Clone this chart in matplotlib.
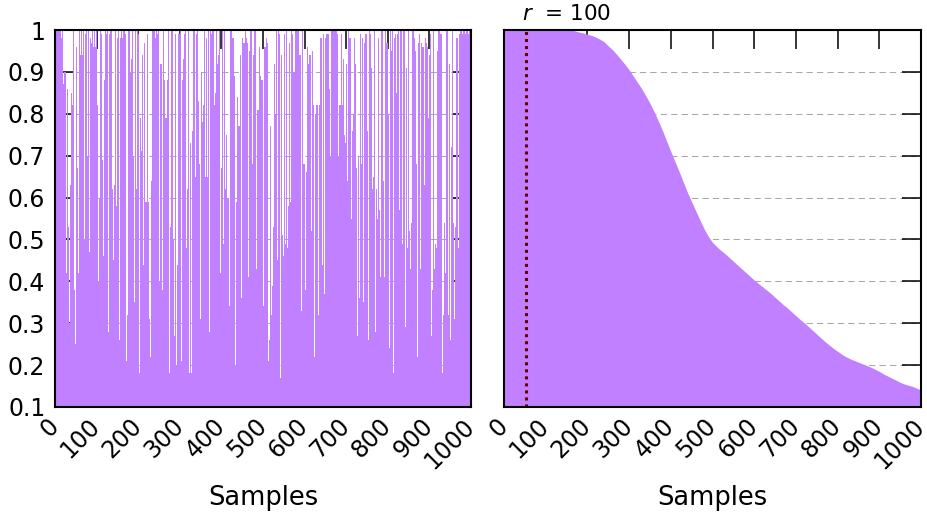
# plot.py
# Per-sample values (left) and the same values sorted (right)

import numpy as np
import matplotlib
matplotlib.use("Agg")
import matplotlib.pyplot as plt
import matplotlib.transforms as mtransforms

plt.rcParams['font.family'] = ['DejaVu Sans']
plt.rcParams['mathtext.fontset'] = 'dejavusans'

### Data ###
# left panel: one value per visible pixel column, in hundredths
left_part1 = [100, 100, 100, 100, 100, 100, 98, 100, 87, 90,
              90, 42, 86, 53, 30, 63, 85, 82, 100, 38,
              25, 96, 67, 42, 100, 94, 100, 94, 100, 50,
              99, 100, 70, 100, 47, 98, 97, 100, 96, 100,
              96, 100, 82, 40, 60, 100, 99, 69, 46, 88,
              100, 99, 100, 28, 99, 100, 100, 62, 45, 63,
              100, 58, 98, 100, 26, 98, 100, 98, 100, 100,
              99, 21, 32, 100, 100, 90, 93, 100, 70, 35,
              100, 62, 100, 99, 18, 79, 71, 94, 44, 97,
              59, 59, 99, 59, 31, 22, 64, 100, 100, 100,
              98, 100, 99, 100]
left_part2 = [40, 92, 92, 38, 100, 88, 79, 79, 88, 100,
              18, 53, 100, 100, 50, 27, 99, 20, 44, 99,
              99, 100, 21, 88, 93, 99, 100, 48, 62, 100,
              18, 73, 18, 76, 100, 100, 65, 99, 100, 83,
              68, 31, 90, 78, 82, 100, 65, 98, 65, 100,
              28, 100, 99, 100, 100, 82, 85, 100, 92, 94,
              100, 42, 67, 100, 49, 100, 62, 75, 60, 60,
              34, 100, 100, 98, 98, 89, 20, 59, 84, 77,
              77, 94, 36, 98, 97, 97, 100, 98, 97, 41,
              95, 100, 100, 68, 94, 100, 100, 43, 81, 81,
              96, 89, 88, 88]
left_part3 = [34, 96, 96, 98, 97, 21, 26, 77, 32, 39,
              53, 92, 80, 100, 45, 100, 99, 17, 94, 51,
              46, 99, 49, 100, 48, 58, 97, 59, 100, 99,
              90, 90, 100, 100, 100, 100, 94, 94, 33, 100,
              68, 68, 38, 66, 96, 92, 94, 94, 52, 95,
              82, 22, 80, 82, 82, 32, 82, 98, 98, 44,
              99, 37, 98, 99, 99, 99, 86, 70, 100, 100,
              100, 100, 100, 100, 99, 70, 82, 82, 99, 82,
              93, 75, 73, 92, 64, 100, 98, 98, 55, 76,
              80, 98, 92, 67, 27, 70, 36, 99, 68, 98,
              35, 97, 99, 99]
left_part4 = [76, 26, 100, 99, 91, 62, 65, 100, 28, 62,
              55, 98, 57, 41, 100, 100, 64, 41, 100, 97,
              97, 80, 24, 100, 95, 100, 18, 98, 99, 85,
              99, 100, 57, 100, 100, 49, 100, 100, 29, 91,
              48, 100, 52, 43, 54, 100, 100, 98, 95, 68,
              22, 97, 99, 43, 97, 96, 96, 63, 98, 97,
              96, 79, 94, 99, 27, 38, 100, 43, 49, 48,
              95, 100, 100, 99, 99, 18, 32, 54, 42, 100,
              100, 32, 92, 26, 72, 100, 54, 31, 53, 98,
              98, 48, 99, 100, 100, 99, 100, 100, 99, 100,
              100, 99, 100, 100]

# right panel: sorted values, read every 10 samples (0 .. 1000)
sorted_vals = [1.0, 1.0, 1.0, 1.0, 1.0, 1.0, 1.0, 1.0, 1.0, 1.0,
               1.0, 1.0, 1.0, 1.0, 1.0, 1.0, 1.0, 0.998, 0.995, 0.993,
               0.99, 0.987, 0.983, 0.978, 0.972, 0.962, 0.953, 0.942, 0.93, 0.918,
               0.905, 0.89, 0.875, 0.86, 0.843, 0.825, 0.805, 0.783, 0.76, 0.735,
               0.71, 0.686, 0.662, 0.637, 0.612, 0.59, 0.568, 0.546, 0.525, 0.507,
               0.493, 0.483, 0.474, 0.466, 0.457, 0.448, 0.439, 0.43, 0.421, 0.412,
               0.403, 0.395, 0.387, 0.379, 0.371, 0.362, 0.353, 0.344, 0.336, 0.327,
               0.318, 0.309, 0.301, 0.292, 0.283, 0.274, 0.265, 0.256, 0.248, 0.24,
               0.233, 0.226, 0.22, 0.215, 0.211, 0.207, 0.203, 0.199, 0.195, 0.19,
               0.185, 0.179, 0.174, 0.169, 0.164, 0.159, 0.155, 0.152, 0.149, 0.145,
               0.14]

n_samples = 1000
r_pos = 52
r_label = "$r$  = 100"
xticks = list(range(0, 1001, 100))
yticks = [0.1, 0.2, 0.3, 0.4, 0.5, 0.6, 0.7, 0.8, 0.9, 1.0]
ytick_labels = ["0.1", "0.2", "0.3", "0.4", "0.5", "0.6", "0.7", "0.8", "0.9", "1"]

purple = "#c080ff"
fs = 17

### Figure ###
W, H = 927, 517
fig = plt.figure(figsize=(W / 100, H / 100), dpi=100)
ax1 = fig.add_axes([55 / W, 110 / H, 416 / W, 377 / H])
ax2 = fig.add_axes([504 / W, 110 / H, 417 / W, 377 / H])

left_vals = np.array(left_part1 + left_part2 + left_part3 + left_part4) / 100.0
w1 = n_samples / len(left_vals)
ax1.bar(np.arange(len(left_vals)) * w1, left_vals, width=w1, align='edge',
        color=purple, linewidth=0, antialiased=False)

ranks = np.linspace(0, n_samples, len(sorted_vals))
ax2.fill_between(ranks, sorted_vals, 0, color=purple, linewidth=0,
                 antialiased=False)

ax2.axvline(r_pos, color="#660000", linewidth=2.2, linestyle=(0, (1, 1.3)),
            zorder=3)
trans = mtransforms.blended_transform_factory(ax2.transData, ax2.transAxes)
ax2.text(r_pos - 8, 1.017, r_label, transform=trans, ha='left', va='bottom',
         fontsize=15.5)

for ax in (ax1, ax2):
    ax.set_xlim(0, n_samples)
    ax.set_ylim(0.1, 1.0)
    ax.set_axisbelow(True)
    ax.grid(axis='y', color='#a8a8a8', linewidth=0.75, linestyle=(0, (6, 4)))
    ax.set_xticks(xticks)
    ax.set_xticklabels([str(t) for t in xticks], rotation=45, ha='right',
                       va='center', rotation_mode='anchor')
    ax.set_yticks(yticks)
    ax.tick_params(direction='in', length=14, width=1.1, top=True, right=True,
                   labelsize=fs, colors='black')
    ax.tick_params(axis='x', pad=11)
    ax.tick_params(axis='y', pad=7)
    for s in ax.spines.values():
        s.set_linewidth(1.5)
        s.set_zorder(4)
    ax.set_xlabel("Samples", fontsize=18.5)
    ax.xaxis.set_label_coords(0.5, -0.208)

ax1.set_yticklabels(ytick_labels)
ax2.set_yticklabels([])

fig.savefig("out.png", dpi=100)
